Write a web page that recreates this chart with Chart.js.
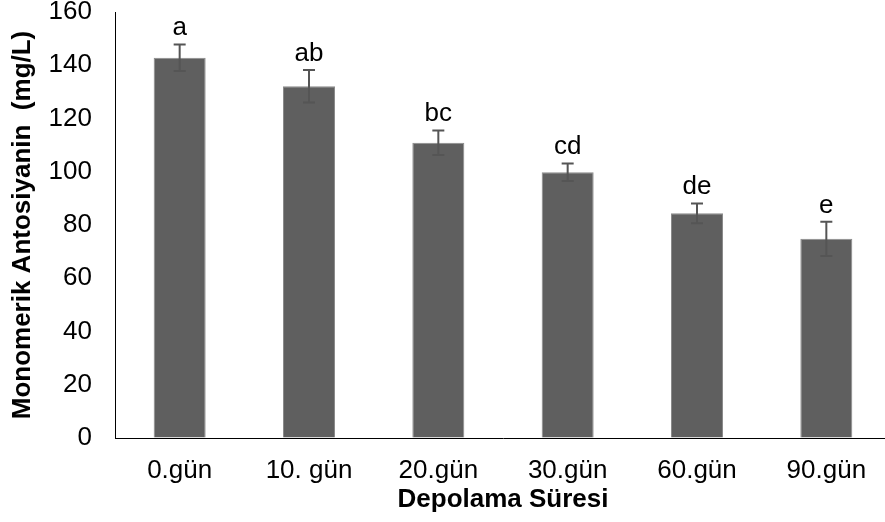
<!DOCTYPE html>
<html>
<head>
<meta charset="utf-8">
<script src="https://cdn.jsdelivr.net/npm/chart.js@4.4.1/dist/chart.umd.min.js"></script>
<style>
  html, body { margin: 0; padding: 0; overflow: hidden; background: #fff; }
  #wrap { width: 891px; height: 522px; }
</style>
</head>
<body>
<div id="wrap"><canvas id="c" width="891" height="522"></canvas></div>
<script>
const categories = ['0.gün', '10. gün', '20.gün', '30.gün', '60.gün', '90.gün'];
const means = [142.8, 132.1, 110.9, 99.8, 84.4, 74.8];
const errors = [5.0, 6.1, 4.6, 3.3, 3.7, 6.4];
const letters = ['a', 'ab', 'bc', 'cd', 'de', 'e'];
const yTitle = 'Monomerik Antosiyanin  (mg/L)';
const xTitle = 'Depolama Süresi';

const FONT = "'Liberation Sans', Arial, sans-serif";
Chart.defaults.font.family = FONT;
Chart.defaults.font.size = 26;
Chart.defaults.color = '#000';

const errorBarPlugin = {
  id: 'errorBars',
  afterDatasetsDraw(chart) {
    const ctx = chart.ctx;
    const meta = chart.getDatasetMeta(0);
    const ys = chart.scales.y;
    ctx.save();
    meta.data.forEach((el, i) => {
      const x = el.x;
      const top = ys.getPixelForValue(means[i] + errors[i]);
      const bot = ys.getPixelForValue(means[i] - errors[i]);
      ctx.strokeStyle = '#555555';
      ctx.lineWidth = 2;
      ctx.beginPath();
      ctx.moveTo(x, top); ctx.lineTo(x, bot);
      ctx.moveTo(x - 6, top); ctx.lineTo(x + 6, top);
      ctx.moveTo(x - 6, bot); ctx.lineTo(x + 6, bot);
      ctx.stroke();
      ctx.fillStyle = '#000';
      ctx.font = '26px ' + FONT;
      ctx.textAlign = 'center';
      ctx.textBaseline = 'alphabetic';
      ctx.fillText(letters[i], x, top - 9);
    });
    ctx.restore();
  }
};

new Chart(document.getElementById('c'), {
  type: 'bar',
  data: {
    labels: categories,
    datasets: [{
      data: means,
      backgroundColor: '#5f5f5f',
      borderColor: '#8a8a8a',
      borderWidth: 1,
      categoryPercentage: 1.0,
      barPercentage: 0.402
    }]
  },
  options: {
    responsive: false,
    animation: false,
    layout: { padding: { top: 12, right: 0, bottom: 0, left: 0 } },
    plugins: { legend: { display: false }, tooltip: { enabled: false } },
    scales: {
      x: {
        offset: true,
        grid: { display: true, drawOnChartArea: false, drawTicks: false },
        border: { display: true, color: '#000', width: 1 },
        ticks: { padding: 17, color: '#000', font: { size: 26 }, maxRotation: 0, autoSkip: false },
        title: { display: true, text: xTitle, color: '#000', font: { size: 26, weight: 'bold' }, padding: { top: 0, bottom: 7 } },
        afterFit(scale) {
          scale.height = 84;
          scale.paddingLeft = 0;
          scale.paddingRight = 0;
        }
      },
      y: {
        min: 0,
        max: 160,
        ticks: { stepSize: 20, padding: 23, color: '#000', font: { size: 26 } },
        grid: { display: true, drawOnChartArea: false, drawTicks: false },
        border: { display: true, color: '#000', width: 1 },
        title: { display: true, text: yTitle, color: '#000', font: { size: 26, weight: 'bold' }, padding: { top: 7, bottom: 0 } },
        afterFit(scale) {
          scale.width = 115;
          scale.paddingTop = 0;
          scale.paddingBottom = 0;
        }
      }
    }
  },
  plugins: [errorBarPlugin]
});
</script>
</body>
</html>
